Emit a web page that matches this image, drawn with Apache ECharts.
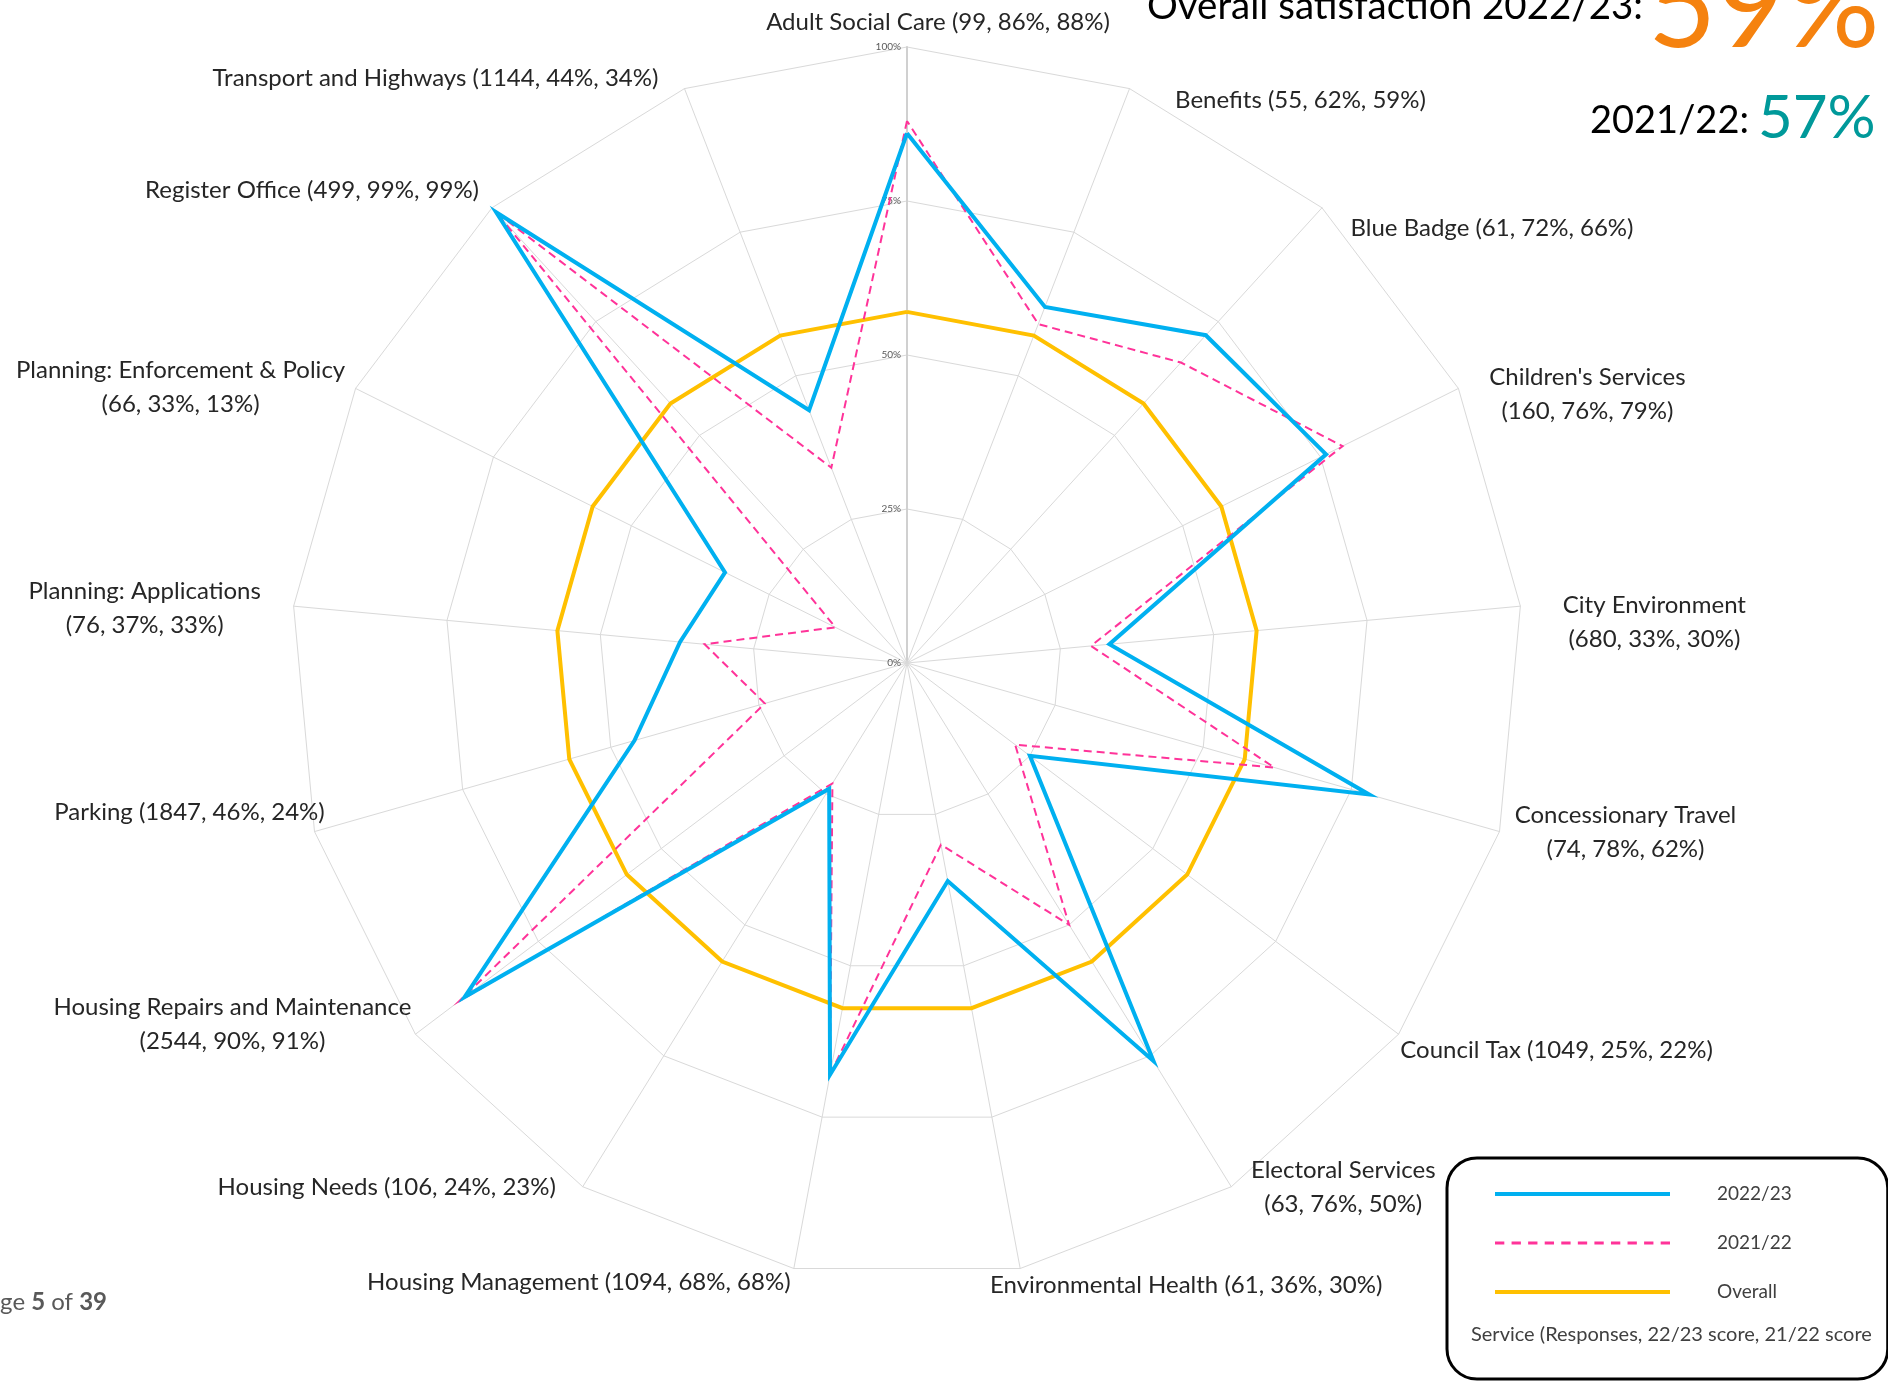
<!DOCTYPE html>
<html><head><meta charset="utf-8">
<script src="https://cdn.jsdelivr.net/npm/echarts@6/dist/echarts.min.js"></script>
<style>html,body{margin:0;padding:0;background:#fff}#c{width:1888px;height:1383px}</style>
</head><body><div id="c"></div>
<script>
// ---------- data ----------
const services = ['Adult Social Care', 'Benefits', 'Blue Badge', "Children's Services", 'City Environment',
  'Concessionary Travel', 'Council Tax', 'Electoral Services', 'Environmental Health', 'Housing Management',
  'Housing Needs', 'Housing Repairs and Maintenance', 'Parking', 'Planning: Applications',
  'Planning: Enforcement & Policy', 'Register Office', 'Transport and Highways'];
const responses = [99, 55, 61, 160, 680, 74, 1049, 63, 61, 1094, 106, 2544, 1847, 76, 66, 499, 1144];
const score2223 = [86, 62, 72, 76, 33, 78, 25, 76, 36, 68, 24, 90, 46, 37, 33, 99, 44];
const score2122 = [88, 59, 66, 79, 30, 62, 22, 50, 30, 68, 23, 91, 24, 33, 13, 99, 34];
const overallScore = [57, 57, 57, 57, 57, 57, 57, 57, 57, 57, 57, 57, 57, 57, 57, 57, 57];
const seriesNames = ['2022/23', '2021/22', 'Overall'];
const headline2223 = 59;
const headline2122 = 57;
const axisMin = 0, axisMax = 100, axisSplits = 4;

// ---------- layout (label centre offsets from spoke tips, wrapping) ----------
const labelOffset = [[31,-25],[171,12],[170,20],[129,6],[134,16],[126,1],[158,16],[112,1],[166,17],
  [-215,14],[-196,1],[-183,-10],[-125,-19],[-149,2],[-175,-1],[-180,-18],[-249,-10]];
const wrapLabel = [false,false,false,true,true,true,false,true,false,false,false,true,false,true,true,false,false];
const nameLineHeight = 34;

const n = services.length;
// ECharts places indicators counter-clockwise; reorder so they run clockwise
const order = [0].concat(Array.from({length: n - 1}, (_, k) => n - 1 - k));

const indicators = order.map(i => {
  const sep = wrapLabel[i] ? '\n' : ' ';
  const [dx, dy] = labelOffset[i];
  const H = (wrapLabel[i] ? 2 : 1) * nameLineHeight;
  const th = (90 - i * 360 / n) * Math.PI / 180;
  let g, px;
  if (i === 0) { g = -dy - H / 2; px = dx; }
  else { g = -dy / Math.sin(th); px = dx - g * Math.cos(th); }
  const ind = {
    name: services[i] + sep + '(' + responses[i] + ', ' + score2223[i] + '%, ' + score2122[i] + '%)',
    min: axisMin, max: axisMax,
    nameGap: g,
    nameTextStyle: {
      align: 'center',
      padding: [0, 2 * Math.max(-px, 0), 0, 2 * Math.max(px, 0)]
    }
  };
  if (i === 0) {
    ind.axisLabel = { show: true };
    ind.axisLine = { lineStyle: { color: '#d0d0d0', width: 2 } };
  }
  return ind;
});

const blue = '#00B0F0', pink = '#FF3399', yellow = '#FFC000';
const dashIcon = 'path://' + Array.from({length: 11}, (_, k) => 'M' + (k * 16) + ',0h9v3h-9z').join(' ');

const chart = echarts.init(document.getElementById('c'), null, {renderer: 'canvas'});
chart.setOption({
  backgroundColor: '#fff',
  animation: false,
  radar: {
    center: [907, 663],
    radius: 616,
    startAngle: 90,
    splitNumber: axisSplits,
    shape: 'polygon',
    nameGap: 0,
    axisName: { color: '#262626', fontFamily: 'Lato', fontSize: 24, lineHeight: nameLineHeight },
    axisLine: { lineStyle: { color: '#d9d9d9', width: 1 } },
    splitLine: { lineStyle: { color: '#d9d9d9', width: 1 } },
    splitArea: { show: false },
    axisTick: { show: false },
    axisLabel: { show: false, formatter: '{value}%', fontFamily: 'Lato', fontSize: 10, color: '#595959', margin: 6 },
    indicator: indicators
  },
  legend: {
    orient: 'vertical', left: 1447, top: 1158,
    padding: [24, 96, 75, 48],
    itemWidth: 175, itemHeight: 4, itemGap: 25,
    borderColor: '#000', borderWidth: 3, borderRadius: 30, backgroundColor: '#fff',
    selectedMode: false,
    textStyle: { fontFamily: 'Lato', fontSize: 19, color: '#404040', lineHeight: 24, padding: [0, 0, 0, 42] },
    data: [
      { name: seriesNames[0], icon: 'rect', itemStyle: { color: blue, borderWidth: 0 } },
      { name: seriesNames[1], icon: dashIcon, itemStyle: { color: pink, borderWidth: 0 } },
      { name: seriesNames[2], icon: 'rect', itemStyle: { color: yellow, borderWidth: 0 } }
    ]
  },
  series: [{
    type: 'radar',
    symbol: 'none',
    data: [
      { name: seriesNames[2], value: order.map(i => overallScore[i]),
        lineStyle: { color: yellow, width: 4, join: 'miter' }, itemStyle: { color: yellow } },
      { name: seriesNames[1], value: order.map(i => score2122[i]),
        lineStyle: { color: pink, width: 2, type: [8, 5], join: 'miter' }, itemStyle: { color: pink } },
      { name: seriesNames[0], value: order.map(i => score2223[i]),
        lineStyle: { color: blue, width: 4, join: 'miter', miterLimit: 20 }, itemStyle: { color: blue } }
    ]
  }],
  graphic: [
    { type: 'text', z: 10, x: 1147, y: 7, style: { text: 'Overall satisfaction 2022/23:', font: '38.5px Lato', fill: '#000', align: 'left', verticalAlign: 'middle' } },
    { type: 'text', z: 10, x: 1648, y: 9, style: { text: headline2223 + '%', font: '118px Lato', fill: '#F5820F', align: 'left', verticalAlign: 'middle' } },
    { type: 'text', z: 10, x: 1590, y: 121, style: { text: '2021/22:', font: '38px Lato', fill: '#000', align: 'left', verticalAlign: 'middle' } },
    { type: 'text', z: 10, x: 1758, y: 119, style: { text: headline2122 + '%', font: '60px Lato', fill: '#00999A', align: 'left', verticalAlign: 'middle' } },
    { type: 'text', z: 10, x: 1471, y: 1335, style: { text: 'Service (Responses, 22/23 score, 21/22 score', font: '20px Lato', fill: '#404040', align: 'left', verticalAlign: 'middle' } },
    { type: 'text', z: 10, x: 107, y: 1302, style: {
        text: '{n|Page }{b|5}{n| of }{b|39}', align: 'right', verticalAlign: 'middle',
        rich: { n: { fontFamily: 'Lato', fontSize: 24, fill: '#595959', color: '#595959' },
                b: { fontFamily: 'Lato', fontSize: 24, fontWeight: 'bold', fill: '#595959', color: '#595959' } } } }
  ]
});
</script></body></html>
